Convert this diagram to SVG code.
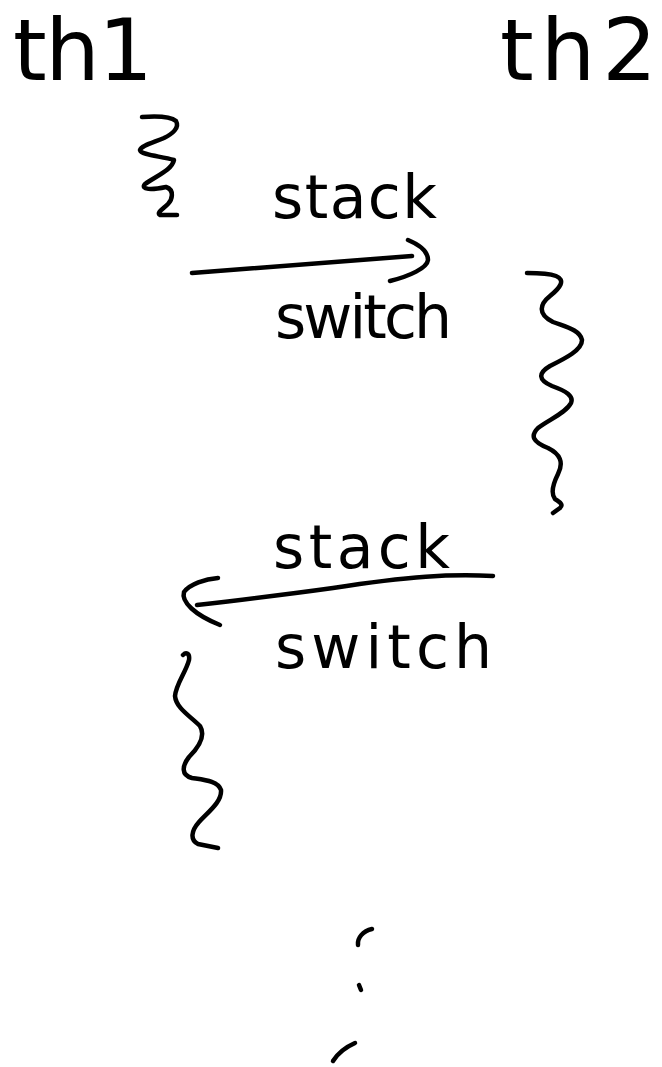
<svg xmlns="http://www.w3.org/2000/svg" width="662" height="1067" viewBox="0 0 662 1067">
  <style>
    .ink { fill: none; stroke: #000; stroke-width: 4.5; stroke-linecap: round; stroke-linejoin: round; }
    .hand { font-family: "DejaVu Sans", "Liberation Sans", sans-serif; fill: #000; }
    .title { font-size: 86px; }
    .label { font-size: 60px; }
  </style>
  <rect width="662" height="1067" fill="#fff"/>

  <!-- thread headers -->
  <g id="th1">
    <text class="hand title" x="13" y="80" textLength="140" lengthAdjust="spacing">th1</text>
  </g>
  <g id="th2">
    <text class="hand title" x="500" y="80" textLength="157" lengthAdjust="spacing">th2</text>
  </g>

  <!-- running segments (wavy lines) -->
  <g id="run-th1-a">
    <path class="ink" d="M142,117 C155,116 170,116 176,121 C180,128 172,134 164,138 C152,143 141,146 140,150 C141,155 160,156 174,160 C172,170 156,176 145,184 C140,190 152,190 166,187 C175,190 172,200 168,204 C163,209 156,213 160,215 L177,215"/>
  </g>
  <g id="run-th2">
    <path class="ink" d="M527,273 C537,273 548,273 556,276 C566,280 560,288 550,296 C540,304 537,314 553,322 C566,327 580,330 582,340 C582,350 566,358 550,366 C538,373 538,380 552,386 C566,391 574,396 571,403 C566,413 548,420 538,428 C530,436 533,442 548,448 C560,454 564,462 558,474 C553,484 551,494 555,499 C559,502 564,504 560,508 L553,513"/>
  </g>
  <g id="run-th1-b">
    <path class="ink" d="M183,655 C186,652 190,653 189,660 C186,672 176,684 175,696 C176,708 190,716 200,726 C206,736 198,748 189,757 C182,766 181,775 192,778 C205,780 218,781 221,790 C222,802 208,812 199,822 C191,831 190,840 198,844 L218,848"/>
  </g>

  <!-- edge labels -->
  <g id="label-stack-1">
    <text class="hand label" x="272" y="218" textLength="165" lengthAdjust="spacing">stack</text>
  </g>
  <g id="label-switch-1">
    <text class="hand label" x="275" y="338" textLength="177" lengthAdjust="spacing">switch</text>
  </g>
  <g id="label-stack-2">
    <text class="hand label" x="273" y="568" textLength="177" lengthAdjust="spacing">stack</text>
  </g>
  <g id="label-switch-2">
    <text class="hand label" x="275" y="668" textLength="217" lengthAdjust="spacing">switch</text>
  </g>

  <!-- continuation marks -->
  <g id="ellipsis">
    <path class="ink" d="M358,945 C357,938 363,931 372,929"/>
    <path class="ink" d="M359,985 L361,990"/>
    <path class="ink" d="M333,1061 C338,1053 346,1047 355,1043"/>
  </g>

  <!-- stack switch arrows -->
  <g id="connectors">
    <path class="ink" d="M192,273 C250,268 330,262 412,256"/>
    <path class="ink" d="M408,240 C420,245 428,252 428,260 C427,268 410,276 390,281"/>
    <path class="ink" d="M493,576 C450,574 410,576 333,588 C290,594 240,600 197,605"/>
    <path class="ink" d="M218,578 C205,579 190,584 184,592 C181,602 195,615 220,625"/>
  </g>
</svg>
